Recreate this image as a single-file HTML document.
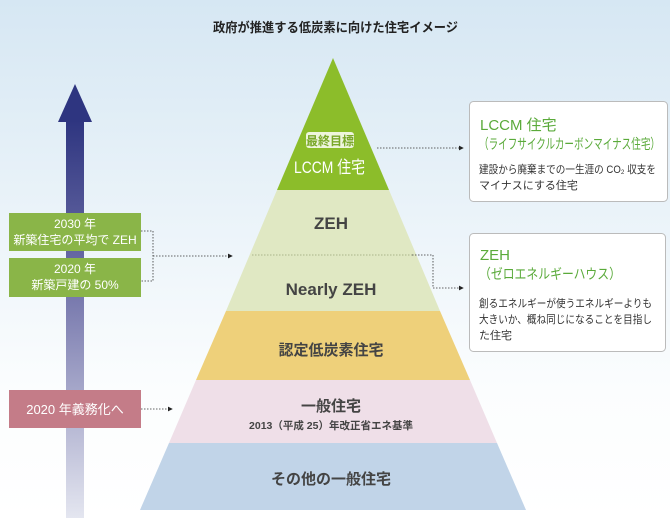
<!DOCTYPE html>
<html><head><meta charset="utf-8"><style>
html,body{margin:0;padding:0}
body{width:670px;height:518px;overflow:hidden;font-family:"Liberation Sans","Noto Sans CJK JP",sans-serif;}
</style></head><body>
<svg width="670" height="518" viewBox="0 0 670 518" xmlns="http://www.w3.org/2000/svg" font-family="Liberation Sans, Noto Sans CJK JP, sans-serif">
<defs>
<linearGradient id="bg" x1="0" y1="0" x2="0" y2="1">
<stop offset="0" stop-color="#d6e7f3"/><stop offset="0.75" stop-color="#fbfdfe"/><stop offset="1" stop-color="#ffffff"/>
</linearGradient>
<linearGradient id="ar" x1="0" y1="0" x2="0" y2="1">
<stop offset="0" stop-color="#2e3580"/><stop offset="0.4" stop-color="#6f70a8"/><stop offset="1" stop-color="#e4e6f0"/>
</linearGradient>
<marker id="m" markerWidth="6" markerHeight="6" refX="5" refY="3" orient="auto"><path d="M0,0 L6,3 L0,6z" fill="#222"/></marker>
</defs>
<rect width="670" height="518" fill="url(#bg)"/>
<text x="213" y="32" textLength="245" lengthAdjust="spacingAndGlyphs" font-size="13" font-weight="bold" fill="#222">政府が推進する低炭素に向けた住宅イメージ</text>

<rect x="66" y="120" width="18" height="398" fill="url(#ar)"/>
<polygon points="75,84 92,122 58,122" fill="#2e3580"/>

<polygon points="333,58 389,190 277,190" fill="#8cbd2a"/>
<polygon points="277,190 389,190 440,311 226,311" fill="#e0e8c3"/>
<polygon points="226,311 440,311 470,380 196,380" fill="#eed07a"/>
<polygon points="196,380 470,380 497,443 169,443" fill="#efdfe8"/>
<polygon points="169,443 497,443 526,510 140,510" fill="#c1d4e8"/>
<line x1="252" y1="255" x2="412" y2="255" stroke="#aab38a" stroke-width="1" stroke-dasharray="1.5,1.5"/>

<rect x="306" y="132" width="48" height="16" rx="3" fill="#eef5dc"/>
<text x="330" y="145" text-anchor="middle" font-size="12" fill="#7aa82a" font-weight="bold">最終目標</text>
<text x="294" y="173" textLength="71" lengthAdjust="spacingAndGlyphs" font-size="17" fill="#fff">LCCM 住宅</text>
<text x="331" y="229" text-anchor="middle" font-size="17" font-weight="bold" fill="#444">ZEH</text>
<text x="331" y="295" text-anchor="middle" font-size="17" font-weight="bold" fill="#444">Nearly ZEH</text>
<text x="331" y="355" text-anchor="middle" font-size="15" font-weight="bold" fill="#444">認定低炭素住宅</text>
<text x="331" y="411" text-anchor="middle" font-size="15" font-weight="bold" fill="#444">一般住宅</text>
<text x="331" y="429" text-anchor="middle" font-size="10.5" font-weight="bold" fill="#444">2013（平成 25）年改正省エネ基準</text>
<text x="331" y="484" text-anchor="middle" font-size="15" font-weight="bold" fill="#444">その他の一般住宅</text>

<rect x="9" y="213" width="132" height="38" fill="#8ab548"/>
<text x="75" y="228" text-anchor="middle" font-size="12" fill="#fff">2030 年</text>
<text x="75" y="244" text-anchor="middle" font-size="12" fill="#fff">新築住宅の平均で ZEH</text>
<rect x="9" y="258" width="132" height="39" fill="#8ab548"/>
<text x="75" y="273" text-anchor="middle" font-size="12" fill="#fff">2020 年</text>
<text x="75" y="289" text-anchor="middle" font-size="12" fill="#fff">新築戸建の 50%</text>
<rect x="9" y="390" width="132" height="38" fill="#c47c88"/>
<text x="75" y="414" text-anchor="middle" font-size="13" fill="#fff">2020 年義務化へ</text>

<g fill="none" stroke="#333" stroke-width="0.8" stroke-dasharray="1.5,1.5">
<polyline points="141,231 153,231 153,281 141,281"/>
<line x1="153" y1="256" x2="232" y2="256" marker-end="url(#m)"/>
<line x1="141" y1="409" x2="172" y2="409" marker-end="url(#m)"/>
<line x1="377" y1="148" x2="463" y2="148" marker-end="url(#m)"/>
<polyline points="412,255 433,255 433,288 463,288" marker-end="url(#m)"/>
</g>

<rect x="469.5" y="101.5" width="198" height="100" rx="4" fill="#fff" stroke="#bbb"/>
<text x="480" y="130" font-size="15" fill="#5aaa3a">LCCM 住宅</text>
<text x="479" y="149" textLength="181" lengthAdjust="spacingAndGlyphs" font-size="14" fill="#5aaa3a">（ライフサイクルカーボンマイナス住宅）</text>
<text x="479" y="173" textLength="177" lengthAdjust="spacingAndGlyphs" font-size="11" fill="#333">建設から廃棄までの一生涯の CO₂ 収支を</text>
<text x="479" y="189" font-size="11" fill="#333">マイナスにする住宅</text>

<rect x="469.5" y="233.5" width="196" height="118" rx="4" fill="#fff" stroke="#bbb"/>
<text x="480" y="260" font-size="15" fill="#5aaa3a">ZEH</text>
<text x="479" y="279" textLength="142" lengthAdjust="spacingAndGlyphs" font-size="14" fill="#5aaa3a">（ゼロエネルギーハウス）</text>
<text x="479" y="307" textLength="173" lengthAdjust="spacingAndGlyphs" font-size="11" fill="#333">創るエネルギーが使うエネルギーよりも</text>
<text x="479" y="323" textLength="173" lengthAdjust="spacingAndGlyphs" font-size="11" fill="#333">大きいか、概ね同じになることを目指し</text>
<text x="479" y="339" font-size="11" fill="#333">た住宅</text>
</svg>
</body></html>
